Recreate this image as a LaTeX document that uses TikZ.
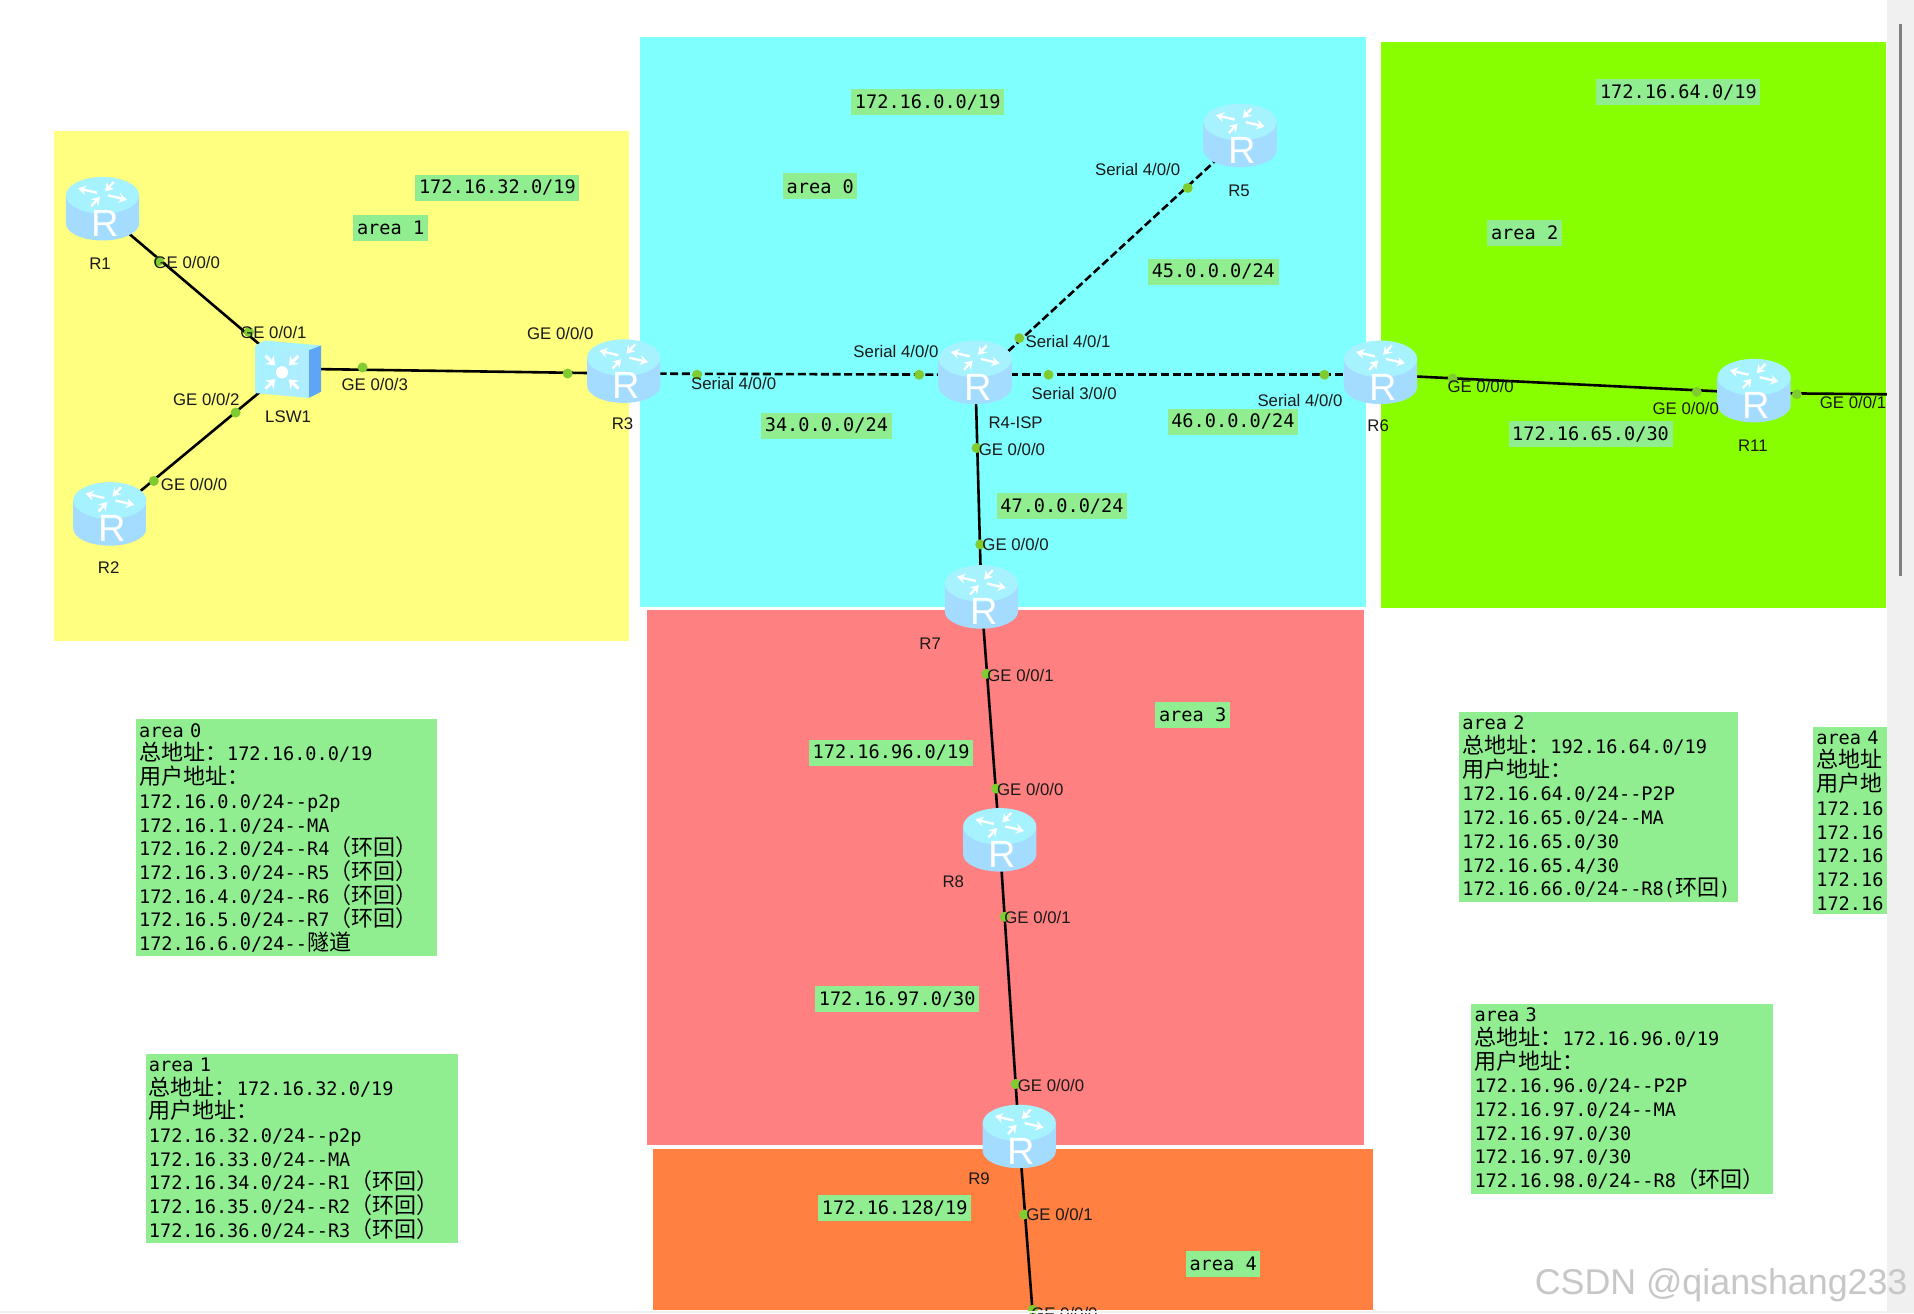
\documentclass[tikz,border=0pt]{standalone}
\usepackage{fontspec}
\setmainfont{Liberation Sans}
\setmonofont{DejaVu Sans Mono}
\newfontfamily\cjk{Noto Sans CJK SC}
\usetikzlibrary{arrows.meta,positioning,calc}
\pgfdeclarelayer{zones}
\pgfdeclarelayer{links}
\pgfsetlayers{zones,links,main}
\definecolor{tagbg}{HTML}{90EE90}
\definecolor{dotc}{HTML}{80CC30}
\definecolor{barc}{HTML}{F0F0F0}
\definecolor{areaone}{HTML}{FFFF80}
\definecolor{areazero}{HTML}{80FFFF}
\definecolor{areatwo}{HTML}{88FF00}
\definecolor{areathree}{HTML}{FF8080}
\definecolor{areafour}{HTML}{FF8040}
\definecolor{rtop}{HTML}{A6F2FF}
\definecolor{redge}{HTML}{A4DCFF}
\definecolor{rmid}{HTML}{6EBEFF}
\definecolor{swfront}{HTML}{B0ECFF}
\definecolor{swside}{HTML}{5FA5F5}
\newcommand{\zh}[1]{{\cjk\fontsize{11}{11.85}\selectfont #1}}
\newcommand{\router}[3]{%
    \node[rtr] (#1) at (#2,#3) {};
    \pic at ($(#1.center)+(0,-2)$) {rtricon};
    \node[rtrmark] (#1mark) at ($(#1.center)+(2,10)$) {R};}
\tikzset{
    x=0.6103pt, y=-0.6103pt,
    rtr/.style={minimum width=38pt, minimum height=33pt, inner sep=0pt},
    rtrmark/.style={text=white, inner sep=0pt, font=\fontsize{19}{20}\selectfont},
    lsw/.style={minimum width=34pt, minimum height=30pt, inner sep=0pt},
    port/.style={font=\fontsize{8.4}{9}\selectfont, inner sep=0pt, text=black!90},
    portdot/.style={circle, fill=dotc, minimum size=5pt, inner sep=0pt},
    nettag/.style={fill=tagbg, font=\fontsize{9.3}{11}\ttfamily\selectfont, inner xsep=1.8pt, inner ysep=0pt, minimum height=13pt, yshift=-.4pt},
    infobox/.style={fill=tagbg, anchor=north west, align=left, inner xsep=1.6pt, inner ysep=2pt,
        font=\fontsize{9.3}{11.85}\ttfamily\selectfont},
    solidlink/.style={line width=1.3pt, black},
    seriallink/.style={line width=1.3pt, black, dash pattern=on 4pt off 1.8pt},
    rtricon/.pic={
        \shade[left color=redge, middle color=rmid, right color=redge]
            (-30,-11) -- (-30,12) arc[start angle=180, end angle=0, x radius=30, y radius=14] -- (30,-11) -- cycle;
        \fill[rtop] (0,-11) ellipse[x radius=30, y radius=15];
        \begin{scope}[shift={(0,-12)}, yscale=.5]
            \foreach \a in {25,205} \draw[white, line width=1.2pt, -{Stealth[length=4pt,width=5pt]}] (\a:5) -- (\a:22);
            \foreach \a in {115,295} \draw[white, line width=1.2pt, {Stealth[length=4pt,width=5pt]}-] (\a:5) -- (\a:22);
        \end{scope}
    },
    lswicon/.pic={
        \fill[rtop] (-27,-19) -- (-19,-23) -- (27,-19) -- (17,-15) -- cycle;
        \fill[swside] (17,-15) -- (27,-19) -- (27,19) -- (17,24) -- cycle;
        \shade[left color=rtop, right color=swfront] (-27,-19) -- (17,-15) -- (17,24) -- (-27,20) -- cycle;
        \foreach \a in {45,135,225,315}
            \draw[white, line width=1.5pt, {Stealth[length=4pt,width=6pt]}-] ($(-5,3)+(\a:8)$) -- ($(-5,3)+(\a:19)$);
        \fill[white] (-5,3) circle[radius=5];
    }
}
\begin{document}
\begin{tikzpicture}
    \useasboundingbox (0,0) rectangle (1568,1076);
    \begin{pgfonlayer}{zones}
        \fill[white] (0,0) rectangle (1568,1076);
        \fill[areaone] (44,107) rectangle (515,525);
        \fill[areazero] (524,30) rectangle (1119,497);
        \fill[areatwo] (1131,34) rectangle (1545,498);
        \fill[areathree] (530,500) rectangle (1117,938);
        \fill[areafour] (535,941) rectangle (1125,1073);
    \end{pgfonlayer}

    % routers and switch
    \router{R1}{84}{173}
    \router{R2}{90}{423}
    \node[lsw] (LSW1) at (236,302) {};
    \pic at (LSW1.center) {lswicon};
    \router{R3}{511}{306}
    \router{R4}{799}{307}
    \router{R5}{1016}{113}
    \router{R6}{1131}{307}
    \router{R11}{1437}{322}
    \router{R7}{804}{491}
    \router{R8}{819}{690}
    \router{R9}{835}{933}
    \coordinate (exitR11) at (1546,323);
    \coordinate (exitR9) at (846,1076);

    \begin{pgfonlayer}{links}
        \draw[solidlink] (R1.center) -- (LSW1.center);
        \draw[solidlink] (R2.center) -- (LSW1.center);
        \draw[solidlink] (LSW1.center) -- (R3.center);
        \draw[seriallink] (R3.center) -- (R4.center);
        \draw[seriallink] ($(R4.center)+(6,0)$) -- (R5.center);
        \draw[seriallink] (R4.center) -- (R6.center);
        \draw[solidlink] (R4.center) -- (R7.center);
        \draw[solidlink] (R6.center) -- (R11.center);
        \draw[solidlink] (R11.center) -- (exitR11);
        \draw[solidlink] (R7.center) -- (R8.center);
        \draw[solidlink] (R8.center) -- (R9.center);
        \draw[solidlink] (R9.center) -- (exitR9);
    \end{pgfonlayer}

    % port dots
    \foreach \px/\py [count=\i] in {130/214,204/272,193/338,126/394,297/301,465/306,571/307,753/307,835/277,973/154,859/307,1085/307,800/367,803/446,808/552,816/646,823/751,832/888,839/995,846/1073,1190/310,1390/321,1472/323}
        \node[portdot] (dot\i) at (\px,\py) {};

    % device names
    \node[port] (nR1) at (82,216) {R1};
    \node[port] (nR2) at (89,465) {R2};
    \node[port] (nLSW1) at (236,341) {LSW1};
    \node[port] (nR3) at (510,347) {R3};
    \node[port] (nR4) at (832,346) {R4-ISP};
    \node[port] (nR5) at (1015,156) {R5};
    \node[port] (nR6) at (1129,349) {R6};
    \node[port] (nR11) at (1436,365) {R11};
    \node[port] (nR7) at (762,527) {R7};
    \node[port] (nR8) at (781,722) {R8};
    \node[port] (nR9) at (802,966) {R9};

    % port labels
    \node[port] (p1) at (153,215) {GE 0/0/0};
    \node[port] (p2) at (224,272) {GE 0/0/1};
    \node[port] (p3) at (169,327) {GE 0/0/2};
    \node[port] (p4) at (159,397) {GE 0/0/0};
    \node[port] (p5) at (307,315) {GE 0/0/3};
    \node[port] (p6) at (459,273) {GE 0/0/0};
    \node[port] (p7) at (601,314) {Serial 4/0/0};
    \node[port] (p8) at (734,288) {Serial 4/0/0};
    \node[port] (p9) at (875,280) {Serial 4/0/1};
    \node[port] (p10) at (932,139) {Serial 4/0/0};
    \node[port] (p11) at (880,322) {Serial 3/0/0};
    \node[port] (p12) at (1065,328) {Serial 4/0/0};
    \node[port] (p13) at (829,368) {GE 0/0/0};
    \node[port] (p14) at (832,446) {GE 0/0/0};
    \node[port] (p15) at (836,553) {GE 0/0/1};
    \node[port] (p16) at (844,647) {GE 0/0/0};
    \node[port] (p17) at (850,752) {GE 0/0/1};
    \node[port] (p18) at (861,889) {GE 0/0/0};
    \node[port] (p19) at (868,995) {GE 0/0/1};
    \node[port] (p20) at (872,1076) {GE 0/0/0};
    \node[port] (p21) at (1213,317) {GE 0/0/0};
    \node[port] (p22) at (1381,335) {GE 0/0/0};
    \node[port] (p23) at (1518,330) {GE 0/0/1};

    % network tags
    \node[nettag] (t1) at (407.5,153) {172.16.32.0/19};
    \node[nettag] (t2) at (320,186) {area 1};
    \node[nettag] (t3) at (760,83) {172.16.0.0/19};
    \node[nettag] (t4) at (672,152) {area 0};
    \node[nettag] (t5) at (994,222) {45.0.0.0/24};
    \node[nettag] (t6) at (677,348) {34.0.0.0/24};
    \node[nettag] (t7) at (1010,345) {46.0.0.0/24};
    \node[nettag] (t8) at (870,414) {47.0.0.0/24};
    \node[nettag] (t9) at (1375,75) {172.16.64.0/19};
    \node[nettag] (t10) at (1249,190) {area 2};
    \node[nettag] (t11) at (1303,355) {172.16.65.0/30};
    \node[nettag] (t12) at (977,585) {area 3};
    \node[nettag] (t13) at (730,616) {172.16.96.0/19};
    \node[nettag] (t14) at (735,818) {172.16.97.0/30};
    \node[nettag] (t15) at (733,989) {172.16.128/19};
    \node[nettag] (t16) at (1002,1035) {area 4};

    % address tables
    \node[infobox, text width=147.5pt] (info0) at (111,589) {area 0\\\zh{总地址：}172.16.0.0/19\\\zh{用户地址：}\\172.16.0.0/24--p2p\\172.16.1.0/24--MA\\172.16.2.0/24--R4\zh{（环回）}\\172.16.3.0/24--R5\zh{（环回）}\\172.16.4.0/24--R6\zh{（环回）}\\172.16.5.0/24--R7\zh{（环回）}\\172.16.6.0/24--\zh{隧道}};
    \node[infobox, text width=153pt] (info1) at (119,863) {area 1\\\zh{总地址：}172.16.32.0/19\\\zh{用户地址：}\\172.16.32.0/24--p2p\\172.16.33.0/24--MA\\172.16.34.0/24--R1\zh{（环回）}\\172.16.35.0/24--R2\zh{（环回）}\\172.16.36.0/24--R3\zh{（环回）}};
    \node[infobox, text width=136pt] (info2) at (1195,583) {area 2\\\zh{总地址：}192.16.64.0/19\\\zh{用户地址：}\\172.16.64.0/24--P2P\\172.16.65.0/24--MA\\172.16.65.0/30\\172.16.65.4/30\\172.16.66.0/24--R8(\zh{环回})};
    \node[infobox, text width=147.5pt] (info3) at (1205,822) {area 3\\\zh{总地址：}172.16.96.0/19\\\zh{用户地址：}\\172.16.96.0/24--P2P\\172.16.97.0/24--MA\\172.16.97.0/30\\172.16.97.0/30\\172.16.98.0/24--R8\zh{（环回）}};
    \node[infobox, text width=40pt] (info4) at (1485,595) {area 4\\\zh{总地址}\\\zh{用户地}\\172.16\\172.16\\172.16\\172.16\\172.16};

    % window edge
    \fill[barc] (1546,0) rectangle (1568,1076);
    \fill[barc] (0,1074) rectangle (1568,1076);
    \draw[gray, line width=1.4pt] (1557,20) -- (1557,472);
    \node[font=\fontsize{17.9}{20}\selectfont, text=black!22, inner sep=0pt] (mark) at (1410,1053) {CSDN @qianshang233};
\end{tikzpicture}
\end{document}
